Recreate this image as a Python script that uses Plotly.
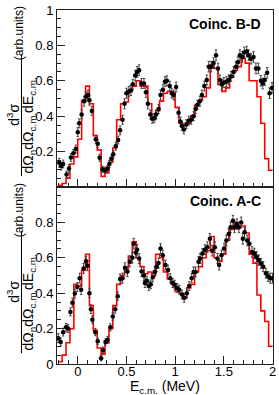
import plotly.graph_objects as go

# ---------------- data ----------------
top_E = [-0.190, -0.170, -0.150, -0.115, -0.090, -0.070, -0.045, -0.020, 0.000, 0.015,
         0.040, 0.065, 0.085, 0.105, 0.120, 0.145, 0.185, 0.205, 0.225, 0.255,
         0.280, 0.305, 0.325, 0.345, 0.365, 0.390, 0.415, 0.435, 0.460, 0.480,
         0.500, 0.525, 0.545, 0.565, 0.590, 0.610, 0.630, 0.655, 0.680, 0.700,
         0.720, 0.745, 0.765, 0.785, 0.805, 0.830, 0.850, 0.875, 0.895, 0.915,
         0.945, 0.965, 0.985, 1.010, 1.035, 1.055, 1.070, 1.090, 1.115, 1.140,
         1.165, 1.190, 1.210, 1.230, 1.255, 1.275, 1.300, 1.325, 1.345, 1.370,
         1.395, 1.420, 1.440, 1.460, 1.480, 1.500, 1.525, 1.550, 1.575, 1.600,
         1.625, 1.645, 1.665, 1.690, 1.710, 1.735, 1.755, 1.780, 1.805, 1.830,
         1.855, 1.880, 1.900, 1.920, 1.945, 1.970, 1.995]
top_val = [0.137, 0.118, 0.130, 0.070, 0.105, 0.167, 0.190, 0.215, 0.310, 0.360,
           0.410, 0.485, 0.510, 0.520, 0.490, 0.430, 0.270, 0.245, 0.165, 0.100,
           0.095, 0.105, 0.130, 0.160, 0.185, 0.230, 0.265, 0.320, 0.380, 0.470,
           0.530, 0.540, 0.545, 0.580, 0.630, 0.650, 0.660, 0.585, 0.585, 0.535,
           0.470, 0.410, 0.385, 0.390, 0.410, 0.440, 0.520, 0.550, 0.595, 0.600,
           0.570, 0.530, 0.520, 0.565, 0.420, 0.370, 0.345, 0.325, 0.355, 0.375,
           0.380, 0.400, 0.440, 0.465, 0.485, 0.520, 0.570, 0.605, 0.680, 0.680,
           0.700, 0.745, 0.670, 0.605, 0.580, 0.590, 0.595, 0.605, 0.625, 0.650,
           0.680, 0.705, 0.745, 0.735, 0.760, 0.765, 0.745, 0.725, 0.735, 0.670,
           0.670, 0.600, 0.585, 0.605, 0.645, 0.530, 0.560]
top_err = [0.025, 0.022, 0.022, 0.020, 0.022, 0.022, 0.022, 0.022, 0.025, 0.025,
           0.025, 0.028, 0.028, 0.028, 0.028, 0.025, 0.022, 0.022, 0.020, 0.018,
           0.018, 0.018, 0.020, 0.020, 0.020, 0.022, 0.022, 0.025, 0.025, 0.028,
           0.028, 0.028, 0.028, 0.028, 0.030, 0.030, 0.030, 0.028, 0.028, 0.028,
           0.028, 0.025, 0.025, 0.025, 0.025, 0.025, 0.028, 0.028, 0.028, 0.028,
           0.028, 0.028, 0.028, 0.028, 0.025, 0.025, 0.025, 0.025, 0.025, 0.025,
           0.025, 0.025, 0.025, 0.025, 0.028, 0.028, 0.028, 0.028, 0.030, 0.030,
           0.030, 0.030, 0.030, 0.028, 0.028, 0.028, 0.028, 0.028, 0.028, 0.030,
           0.030, 0.030, 0.030, 0.030, 0.030, 0.030, 0.030, 0.030, 0.030, 0.030,
           0.030, 0.030, 0.030, 0.030, 0.030, 0.030, 0.030]

bot_E = [-0.200, -0.175, -0.150, -0.120, -0.100, -0.075, -0.055, -0.030, -0.005, 0.020,
         0.035, 0.060, 0.085, 0.100, 0.120, 0.135, 0.150, 0.180, 0.205, 0.240,
         0.260, 0.285, 0.305, 0.335, 0.360, 0.385, 0.410, 0.435, 0.460, 0.485,
         0.510, 0.535, 0.560, 0.575, 0.595, 0.610, 0.630, 0.655, 0.680, 0.690,
         0.710, 0.730, 0.750, 0.770, 0.790, 0.810, 0.830, 0.850, 0.873, 0.900,
         0.927, 0.950, 0.975, 0.995, 1.020, 1.042, 1.070, 1.093, 1.120, 1.144,
         1.170, 1.190, 1.210, 1.240, 1.256, 1.280, 1.306, 1.330, 1.357, 1.380,
         1.408, 1.435, 1.452, 1.476, 1.503, 1.526, 1.550, 1.570, 1.594, 1.610,
         1.634, 1.655, 1.679, 1.695, 1.713, 1.740, 1.763, 1.790, 1.814, 1.837,
         1.858, 1.882, 1.905, 1.932, 1.956, 1.977, 2.000]
bot_val = [0.146, 0.124, 0.180, 0.207, 0.200, 0.294, 0.346, 0.398, 0.435, 0.485,
           0.420, 0.540, 0.580, 0.555, 0.400, 0.310, 0.250, 0.180, 0.128, 0.033,
           0.078, 0.124, 0.136, 0.207, 0.268, 0.309, 0.383, 0.480, 0.485, 0.544,
           0.522, 0.578, 0.600, 0.680, 0.630, 0.645, 0.596, 0.522, 0.500, 0.457,
           0.470, 0.440, 0.450, 0.490, 0.520, 0.550, 0.570, 0.652, 0.615, 0.559,
           0.531, 0.485, 0.457, 0.448, 0.430, 0.420, 0.393, 0.374, 0.400, 0.440,
           0.485, 0.520, 0.520, 0.578, 0.596, 0.624, 0.646, 0.660, 0.707, 0.640,
           0.660, 0.596, 0.559, 0.615, 0.652, 0.698, 0.735, 0.772, 0.809, 0.772,
           0.790, 0.772, 0.800, 0.707, 0.744, 0.698, 0.680, 0.633, 0.624, 0.605,
           0.587, 0.568, 0.550, 0.513, 0.494, 0.485, 0.485]
bot_err = [0.025, 0.022, 0.022, 0.022, 0.022, 0.022, 0.025, 0.025, 0.025, 0.028,
           0.028, 0.028, 0.028, 0.028, 0.025, 0.025, 0.022, 0.020, 0.018, 0.015,
           0.018, 0.018, 0.020, 0.020, 0.022, 0.022, 0.025, 0.028, 0.028, 0.028,
           0.028, 0.028, 0.030, 0.030, 0.030, 0.030, 0.028, 0.028, 0.028, 0.025,
           0.025, 0.025, 0.025, 0.025, 0.028, 0.028, 0.028, 0.028, 0.028, 0.028,
           0.028, 0.025, 0.025, 0.025, 0.025, 0.025, 0.025, 0.025, 0.025, 0.025,
           0.025, 0.028, 0.028, 0.028, 0.028, 0.028, 0.028, 0.030, 0.030, 0.030,
           0.030, 0.028, 0.028, 0.028, 0.030, 0.030, 0.030, 0.030, 0.030, 0.030,
           0.030, 0.030, 0.030, 0.030, 0.030, 0.030, 0.030, 0.030, 0.030, 0.030,
           0.030, 0.028, 0.028, 0.028, 0.028, 0.028, 0.028]

# histogram (simulation) bins: lower edges, last upper edge
bin_lo = [-0.20, -0.16, -0.12, -0.08, -0.04, 0.00, 0.04, 0.08, 0.12, 0.16,
          0.20, 0.24, 0.28, 0.32, 0.36, 0.40, 0.44, 0.48, 0.52, 0.56,
          0.60, 0.64, 0.68, 0.72, 0.76, 0.80, 0.84, 0.88, 0.92, 0.96,
          1.00, 1.04, 1.08, 1.12, 1.16, 1.20, 1.24, 1.28, 1.32, 1.36,
          1.40, 1.44, 1.48, 1.52, 1.56, 1.60, 1.64, 1.68, 1.72, 1.76,
          1.80, 1.84, 1.88, 1.92, 1.96]
bin_hi_last = 2.00
top_sim = [0.01, 0.02, 0.05, 0.13, 0.17, 0.27, 0.49, 0.57, 0.47, 0.29,
           0.21, 0.06, 0.08, 0.14, 0.22, 0.38, 0.47, 0.48, 0.54, 0.57,
           0.60, 0.57, 0.57, 0.47, 0.38, 0.43, 0.485, 0.53, 0.54, 0.535,
           0.45, 0.36, 0.345, 0.36, 0.40, 0.46, 0.49, 0.51, 0.56, 0.69,
           0.67, 0.58, 0.54, 0.56, 0.62, 0.66, 0.68, 0.725, 0.70, 0.60,
           0.60, 0.51, 0.36, 0.16, 0.095]
bot_sim = [0.013, 0.05, 0.12, 0.20, 0.45, 0.44, 0.53, 0.62, 0.33, 0.19,
           0.09, 0.055, 0.12, 0.20, 0.33, 0.45, 0.50, 0.54, 0.61, 0.69,
           0.60, 0.55, 0.51, 0.52, 0.50, 0.62, 0.60, 0.52, 0.48, 0.45,
           0.41, 0.40, 0.37, 0.43, 0.45, 0.52, 0.55, 0.60, 0.64, 0.72,
           0.60, 0.58, 0.62, 0.70, 0.76, 0.80, 0.78, 0.78, 0.74, 0.62,
           0.57, 0.39, 0.30, 0.24, 0.10]

y_top_ticks = [0.2, 0.4, 0.6, 0.8, 1.0]
y_top_text = ["0.2", "0.4", "0.6", "0.8", "1"]
y_bot_ticks = [0.0, 0.2, 0.4, 0.6, 0.8]
y_bot_text = ["0", "0.2", "0.4", "0.6", "0.8"]
x_ticks = [0.0, 0.5, 1.0, 1.5, 2.0]
x_text = ["0", "0.5", "1", "1.5", "2"]
panel_labels = ["Coinc. B-D", "Coinc. A-C"]

# ---------------- figure ----------------
W, H = 279, 395
ML, MR, MT, MB = 57, 3, 4, 31
PW, PH = W - ML - MR, H - MT - MB


def px_x(px):
    return (px - ML) / PW


def px_y(py):
    return (H - MB - py) / PH


FONT = "Liberation Sans, Arial, sans-serif"
fig = go.Figure()

edges = bin_lo + [bin_hi_last]
for sim, E, val, err, xa, ya in [
    (top_sim, top_E, top_val, top_err, "x", "y"),
    (bot_sim, bot_E, bot_val, bot_err, "x2", "y2"),
]:
    fig.add_trace(go.Scatter(
        x=edges, y=sim + [sim[-1]], mode="lines", line=dict(shape="hv", color="#ff0000", width=1.6),
        xaxis=xa, yaxis=ya, showlegend=False, hoverinfo="skip"))
    fig.add_trace(go.Scatter(
        x=E, y=val, mode="markers",
        marker=dict(color="black", size=4.5),
        error_y=dict(type="data", array=err, color="#444444", thickness=1, width=1.2),
        xaxis=xa, yaxis=ya, showlegend=False))

xrng = [-0.213, 2.005]
common_x = dict(range=xrng, showgrid=False, zeroline=False, showline=True, mirror=True,
                linecolor="#222222", linewidth=1, ticks="inside", ticklen=8, tickcolor="#222222",
                tickvals=x_ticks, ticktext=x_text, ticklabeloverflow="allow", ticklabelstandoff=-5,
                minor=dict(tickmode="linear", tick0=0, dtick=0.1, ticks="inside", ticklen=4,
                           tickcolor="#222222"),
                tickfont=dict(family=FONT, size=13, color="black"))
common_y = dict(range=[0, 1], showgrid=False, zeroline=False, showline=True, mirror=True,
                linecolor="#222222", linewidth=1, ticks="inside", ticklen=8, tickcolor="#222222",
                ticklabeloverflow="allow",
                minor=dict(tickmode="linear", tick0=0, dtick=0.05, ticks="inside", ticklen=4,
                           tickcolor="#222222"),
                tickfont=dict(family=FONT, size=13, color="black"))

fig.update_layout(
    width=W, height=H,
    margin=dict(l=ML, r=MR, t=MT, b=MB),
    paper_bgcolor="white", plot_bgcolor="white",
    xaxis=dict(domain=[0, 1], anchor="y", showticklabels=False, **common_x),
    xaxis2=dict(domain=[0, 1], anchor="y2", showticklabels=True, **common_x),
    yaxis=dict(domain=[0.5, 1], anchor="x", tickvals=y_top_ticks, ticktext=y_top_text, **common_y),
    yaxis2=dict(domain=[0, 0.5], anchor="x2", tickvals=y_bot_ticks, ticktext=y_bot_text, **common_y),
)

annots = []
shapes = []
for i, lab in enumerate(panel_labels):
    off = 180 * i
    annots.append(dict(text="<b>%s</b>" % lab, x=px_x(266), y=px_y(18 + off), xref="paper", yref="paper",
                       xanchor="right", yanchor="middle", showarrow=False,
                       font=dict(family=FONT, size=14, color="black")))
    # y-axis title: fraction
    annots.append(dict(text="d<sup>3</sup>σ", x=px_x(13), y=px_y(111 + off), xref="paper", yref="paper",
                       xanchor="center", yanchor="middle", showarrow=False, textangle=-90,
                       font=dict(family=FONT, size=14, color="black")))
    annots.append(dict(text="dΩ<sub>n</sub>dΩ<sub>c.m.</sub>dE<sub>c.m.</sub>", x=px_x(29), y=px_y(121 + off),
                       xref="paper", yref="paper", xanchor="center", yanchor="middle", showarrow=False,
                       textangle=-90, font=dict(family=FONT, size=14, color="black")))
    annots.append(dict(text="(arb.units)", x=px_x(18), y=px_y(28 + off), xref="paper", yref="paper",
                       xanchor="center", yanchor="middle", showarrow=False, textangle=-90,
                       font=dict(family=FONT, size=12, color="black")))
    shapes.append(dict(type="line", xref="paper", yref="paper", x0=px_x(21), x1=px_x(21),
                       y0=px_y(49 + off), y1=px_y(173 + off), line=dict(color="black", width=1)))

annots.append(dict(text="E<sub>c.m.</sub> (MeV)", x=px_x(167), y=px_y(398), xref="paper", yref="paper",
                   xanchor="center", yanchor="bottom", showarrow=False, borderpad=0,
                   font=dict(family=FONT, size=14, color="black")))

fig.update_layout(annotations=annots, shapes=shapes)
fig.write_html("out.html", config={"displayModeBar": False},
               post_script="document.body.style.margin='0';document.body.style.padding='0';")
